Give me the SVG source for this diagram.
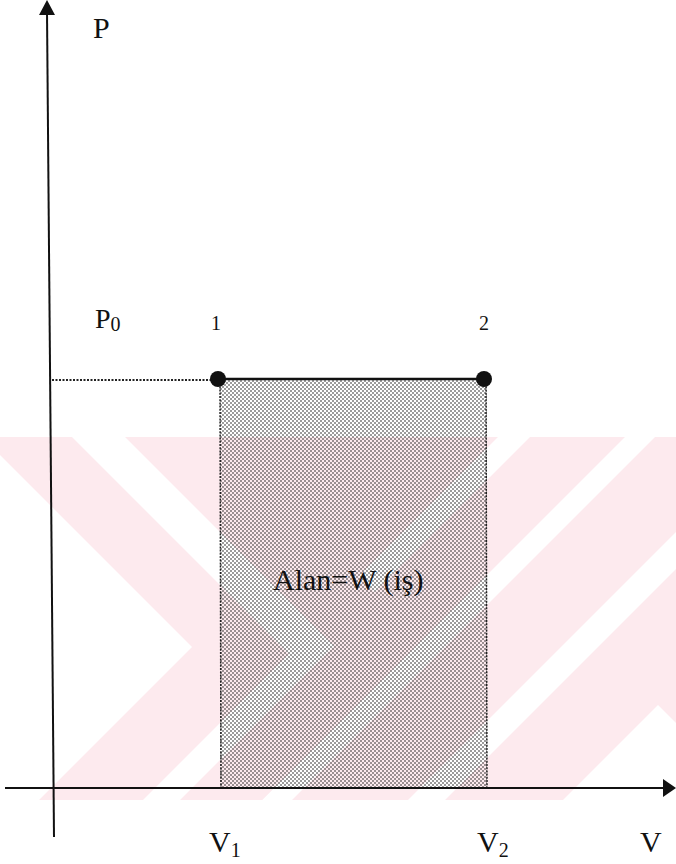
<svg xmlns="http://www.w3.org/2000/svg" width="676" height="864" viewBox="0 0 676 864">
  <style>
    .lbl { font-family: "Liberation Serif", "Times New Roman", serif; fill: #111; }
    .axis { stroke: #111; stroke-width: 2; fill: none; }
    .wm { fill: #ffffff; }
  </style>
  <defs>
    <pattern id="dots" patternUnits="userSpaceOnUse" width="4" height="4">
      <circle cx="1" cy="1" r="0.8" fill="#1a1a1a"/>
      <circle cx="3" cy="3" r="0.8" fill="#1a1a1a"/>
    </pattern>
    <clipPath id="band">
      <rect x="0" y="437" width="676" height="363"/>
    </clipPath>
    <clipPath id="rightRegion">
      <polygon points="220,437 422,640 262,800 676,800 676,437"/>
    </clipPath>
  </defs>

  <rect x="0" y="0" width="676" height="864" fill="#ffffff"/>

  <!-- background watermark -->
  <g id="watermark" clip-path="url(#band)">
    <rect x="0" y="437" width="676" height="363" fill="#fdeaee"/>
    <polygon class="wm" points="0,455 192,647 39,800 0,800"/>
    <polygon class="wm" points="72,437 125,437 334,646 180,800 143,800 289,654"/>
    <g clip-path="url(#rightRegion)">
      <polygon class="wm" points="498,437 530,437 167,800 135,800"/>
      <polygon class="wm" points="625,437 655,437 292,800 262,800"/>
      <polygon class="wm" points="771,437 808,437 445,800 408,800"/>
      <polygon class="wm" points="658,705 753,800 563,800"/>
    </g>
  </g>

  <!-- shaded work area -->
  <g id="area">
    <rect x="220" y="380" width="267" height="408" fill="url(#dots)"/>
    <line x1="220" y1="380" x2="221" y2="788" stroke="#222" stroke-width="1.5" stroke-dasharray="2 1.2"/>
    <line x1="486" y1="380" x2="487" y2="788" stroke="#222" stroke-width="1.5" stroke-dasharray="2 1.2"/>
    <text class="lbl" x="273" y="590" font-size="30">Alan=W (iş)</text>
  </g>

  <!-- connectors: axes and process line -->
  <g id="connectors">
    <line class="axis" x1="47" y1="12" x2="54" y2="837"/>
    <polygon points="47,0 55,15 39,15" fill="#111"/>
    <line class="axis" x1="5" y1="788" x2="664" y2="788"/>
    <polygon points="676,788 663,779 663,797" fill="#111"/>
    <line x1="52" y1="380" x2="212" y2="380" stroke="#222" stroke-width="2" stroke-dasharray="2 1.5"/>
    <line x1="218" y1="379" x2="484" y2="379" stroke="#111" stroke-width="2.5"/>
  </g>

  <g id="node-1">
    <circle cx="218" cy="379" r="8" fill="#111"/>
    <text class="lbl" x="216" y="330" font-size="20" text-anchor="middle">1</text>
  </g>
  <g id="node-2">
    <circle cx="484" cy="379" r="8" fill="#111"/>
    <text class="lbl" x="484" y="330" font-size="20" text-anchor="middle">2</text>
  </g>

  <g id="labels">
    <text class="lbl" x="93" y="38" font-size="30">P</text>
    <text class="lbl" x="95" y="328" font-size="28">P<tspan font-size="20" dy="3">0</tspan></text>
    <text class="lbl" x="209" y="852" font-size="30">V<tspan font-size="20" dy="5">1</tspan></text>
    <text class="lbl" x="477" y="852" font-size="30">V<tspan font-size="20" dy="5">2</tspan></text>
    <text class="lbl" x="640" y="852" font-size="30">V</text>
  </g>
</svg>
